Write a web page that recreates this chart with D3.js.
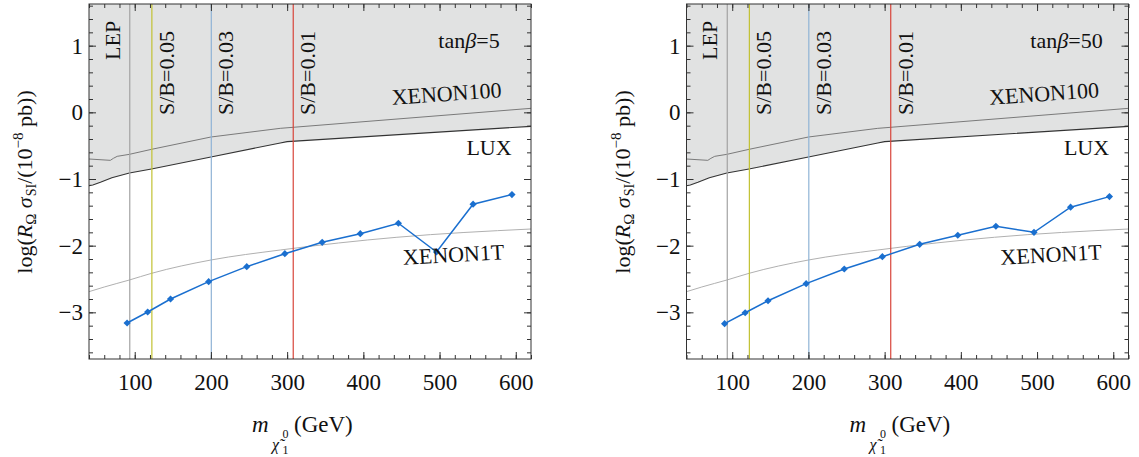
<!DOCTYPE html>
<html><head><meta charset="utf-8">
<script src="https://cdn.jsdelivr.net/npm/d3@7"></script>
<style>
body{margin:0;background:#fff;}
svg{display:block;font-family:"Liberation Serif","DejaVu Serif",serif;}
</style></head>
<body><svg id="c" width="1139" height="457"></svg>
<script>
// ---- data ----
const masses = [90, 117, 147, 197, 247, 297, 346, 396, 446, 496, 544, 595];
const sigmaTan5 = [-3.16, -2.995, -2.80, -2.54, -2.315, -2.12, -1.95, -1.82, -1.664, -2.095, -1.378, -1.234];
const sigmaTan50 = [-3.17, -3.006, -2.826, -2.57, -2.35, -2.165, -1.98, -1.844, -1.709, -1.80, -1.423, -1.264];

const luxMass = [40, 45, 55, 70, 93, 122, 200, 291, 300, 620];
const luxLog = [-1.10, -1.09, -1.05, -0.98, -0.91, -0.85, -0.67, -0.46, -0.44, -0.21];
const x100Mass = [40, 68, 72, 77, 93, 122, 200, 291, 620];
const x100Log = [-0.70, -0.72, -0.69, -0.66, -0.63, -0.555, -0.37, -0.24, 0.06];
const x1tMass = [40, 60, 93, 122, 200, 291, 444, 620];
const x1tLog = [-2.69, -2.62, -2.515, -2.415, -2.215, -2.065, -1.874, -1.75];

const cutMass = [93.5, 122.5, 200.5, 308];
const cutLabels = ["LEP", "S/B=0.05", "S/B=0.03", "S/B=0.01"];
const cutColors = ["#a3a3a3", "#c2c232", "#8fb3d6", "#d8453a"];

const xTicks = [100, 200, 300, 400, 500, 600];
const yTicks = [-3, -2, -1, 0, 1];
const panelTanValues = ["5", "50"];

// ---- layout ----
const svg = d3.select("#c");
const W = 442, H = 355, topY = 4;
const panels = [
  {x0: 89, sigma: sigmaTan5, tv: panelTanValues[0]},
  {x0: 686.5, sigma: sigmaTan50, tv: panelTanValues[1]}
];

panels.forEach((p, pi) => {
  const g = svg.append("g").attr("transform", `translate(${p.x0},${topY})`);
  const x = d3.scaleLinear().domain([40, 620]).range([0, W]);
  const y = d3.scaleLinear().domain([-3.7, 1.625]).range([H, 0]);
  const cid = "clip" + pi;
  g.append("clipPath").attr("id", cid).append("rect").attr("width", W).attr("height", H);
  const pg = g.append("g").attr("clip-path", `url(#${cid})`);

  const lux = luxMass.map((m, i) => [m, luxLog[i]]);
  const x100 = x100Mass.map((m, i) => [m, x100Log[i]]);
  const x1t = x1tMass.map((m, i) => [m, x1tLog[i]]);

  pg.append("path").datum(lux)
    .attr("d", d3.area().x(d => x(d[0])).y0(0).y1(d => y(d[1])))
    .attr("fill", "#e1e2e2");
  pg.append("path").datum(x100)
    .attr("d", d3.line().x(d => x(d[0])).y(d => y(d[1])))
    .attr("fill", "none").attr("stroke", "#7a7a7a").attr("stroke-width", 1);
  pg.append("path").datum(lux)
    .attr("d", d3.line().x(d => x(d[0])).y(d => y(d[1])))
    .attr("fill", "none").attr("stroke", "#333").attr("stroke-width", 1.1);
  pg.append("path").datum(x1t)
    .attr("d", d3.line().curve(d3.curveMonotoneX).x(d => x(d[0])).y(d => y(d[1])))
    .attr("fill", "none").attr("stroke", "#b0b0b0").attr("stroke-width", 1);

  cutMass.forEach((m, i) => {
    pg.append("line").attr("x1", x(m)).attr("x2", x(m)).attr("y1", 0).attr("y2", H)
      .attr("stroke", cutColors[i]).attr("stroke-width", 1.2);
    const bx = i === 0 ? x(m) - 10 : x(m) + 22;
    const by = i === 0 ? 56 : 111;
    g.append("text").attr("transform", `translate(${bx},${by}) rotate(-90)`)
      .attr("font-size", 22).attr("fill", "#111").text(cutLabels[i]);
  });

  // data
  const pts = masses.map((m, i) => [m, p.sigma[i]]);
  pg.append("path").datum(pts)
    .attr("d", d3.line().x(d => x(d[0])).y(d => y(d[1])))
    .attr("fill", "none").attr("stroke", "#1a6fcf").attr("stroke-width", 1.5);
  pg.selectAll(".pt").data(pts).enter().append("path")
    .attr("transform", d => `translate(${x(d[0])},${y(d[1])}) rotate(45)`)
    .attr("d", d3.symbol().type(d3.symbolSquare).size(26))
    .attr("fill", "#1a6fcf");

  // annotations
  const tb = g.append("text").attr("x", 380).attr("y", 44).attr("text-anchor", "middle").attr("font-size", 22).attr("fill", "#111");
  tb.append("tspan").text("tan");
  tb.append("tspan").attr("font-style", "italic").text("β");
  tb.append("tspan").text("=" + p.tv);
  g.append("text").attr("transform", "translate(358,97) rotate(-4)").attr("text-anchor", "middle")
    .attr("font-size", 22).attr("fill", "#111").text("XENON100");
  g.append("text").attr("transform", "translate(400,151)").attr("text-anchor", "middle")
    .attr("font-size", 22).attr("fill", "#111").text("LUX");
  g.append("text").attr("transform", "translate(365,258) rotate(-3.2)").attr("text-anchor", "middle")
    .attr("font-size", 22).attr("fill", "#111").text("XENON1T");

  // axes
  const minorX = d3.range(40, 621, 20);
  const minorY = d3.range(-3.6, 1.61, 0.2).map(v => +v.toFixed(1));
  const styleAx = sel => { sel.select(".domain").remove(); sel.selectAll("line").attr("stroke", "#333"); };
  g.append("g").attr("transform", `translate(0,${H})`)
    .call(d3.axisBottom(x).tickValues(xTicks).tickSize(-7).tickPadding(15).tickFormat(d3.format("d")))
    .call(styleAx).call(s => s.selectAll("text").attr("font-size", 23).attr("fill", "#111"));
  g.append("g").attr("transform", `translate(0,${H})`).call(d3.axisBottom(x).tickValues(minorX).tickSize(-4).tickFormat("")).call(styleAx);
  g.append("g").call(d3.axisTop(x).tickValues(xTicks).tickSize(-7).tickFormat("")).call(styleAx);
  g.append("g").call(d3.axisTop(x).tickValues(minorX).tickSize(-4).tickFormat("")).call(styleAx);
  g.append("g")
    .call(d3.axisLeft(y).tickValues(yTicks).tickSize(-7).tickPadding(6).tickFormat(d3.format("d")))
    .call(styleAx).call(s => s.selectAll("text").attr("font-size", 23).attr("fill", "#111"));
  g.append("g").call(d3.axisLeft(y).tickValues(minorY).tickSize(-4).tickFormat("")).call(styleAx);
  g.append("g").attr("transform", `translate(${W},0)`).call(d3.axisRight(y).tickValues(yTicks).tickSize(-7).tickFormat("")).call(styleAx);
  g.append("g").attr("transform", `translate(${W},0)`).call(d3.axisRight(y).tickValues(minorY).tickSize(-4).tickFormat("")).call(styleAx);
  g.selectAll(".tick text").attr("font-family", "Liberation Serif");
  g.append("rect").attr("width", W).attr("height", H).attr("fill", "none").attr("stroke", "#333").attr("stroke-width", 1);

  // y label
  const yl = svg.append("text").attr("transform", `translate(${p.x0 - 57},${topY + 178}) rotate(-90)`)
    .attr("text-anchor", "middle").attr("font-size", 22).attr("fill", "#111");
  yl.append("tspan").text("log(");
  yl.append("tspan").attr("font-style", "italic").text("R");
  yl.append("tspan").attr("font-size", 15).attr("dy", 4).text("Ω");
  yl.append("tspan").attr("dy", -4).text(" ");
  yl.append("tspan").attr("font-style", "italic").text("σ");
  yl.append("tspan").attr("font-size", 14).attr("dy", 4).attr("dx", 1).text("SI");
  yl.append("tspan").attr("dy", -4).text("/(10");
  yl.append("tspan").attr("font-size", 15).attr("dy", -9).text("−8");
  yl.append("tspan").attr("dy", 9).text(" pb))");

  // x label
  const xl = svg.append("g").attr("transform", `translate(${p.x0},0)`).attr("fill", "#111");
  xl.append("text").attr("x", 163).attr("y", 432).attr("font-size", 23).attr("font-style", "italic").text("m");
  xl.append("text").attr("x", 183).attr("y", 450).attr("font-size", 16).attr("font-style", "italic").text("χ\u0303");
  xl.append("text").attr("x", 193.5).attr("y", 438).attr("font-size", 12).text("0");
  xl.append("text").attr("x", 193.5).attr("y", 454).attr("font-size", 12).text("1");
  xl.append("text").attr("x", 205).attr("y", 432).attr("font-size", 23).text("(GeV)");
});
</script></body></html>
